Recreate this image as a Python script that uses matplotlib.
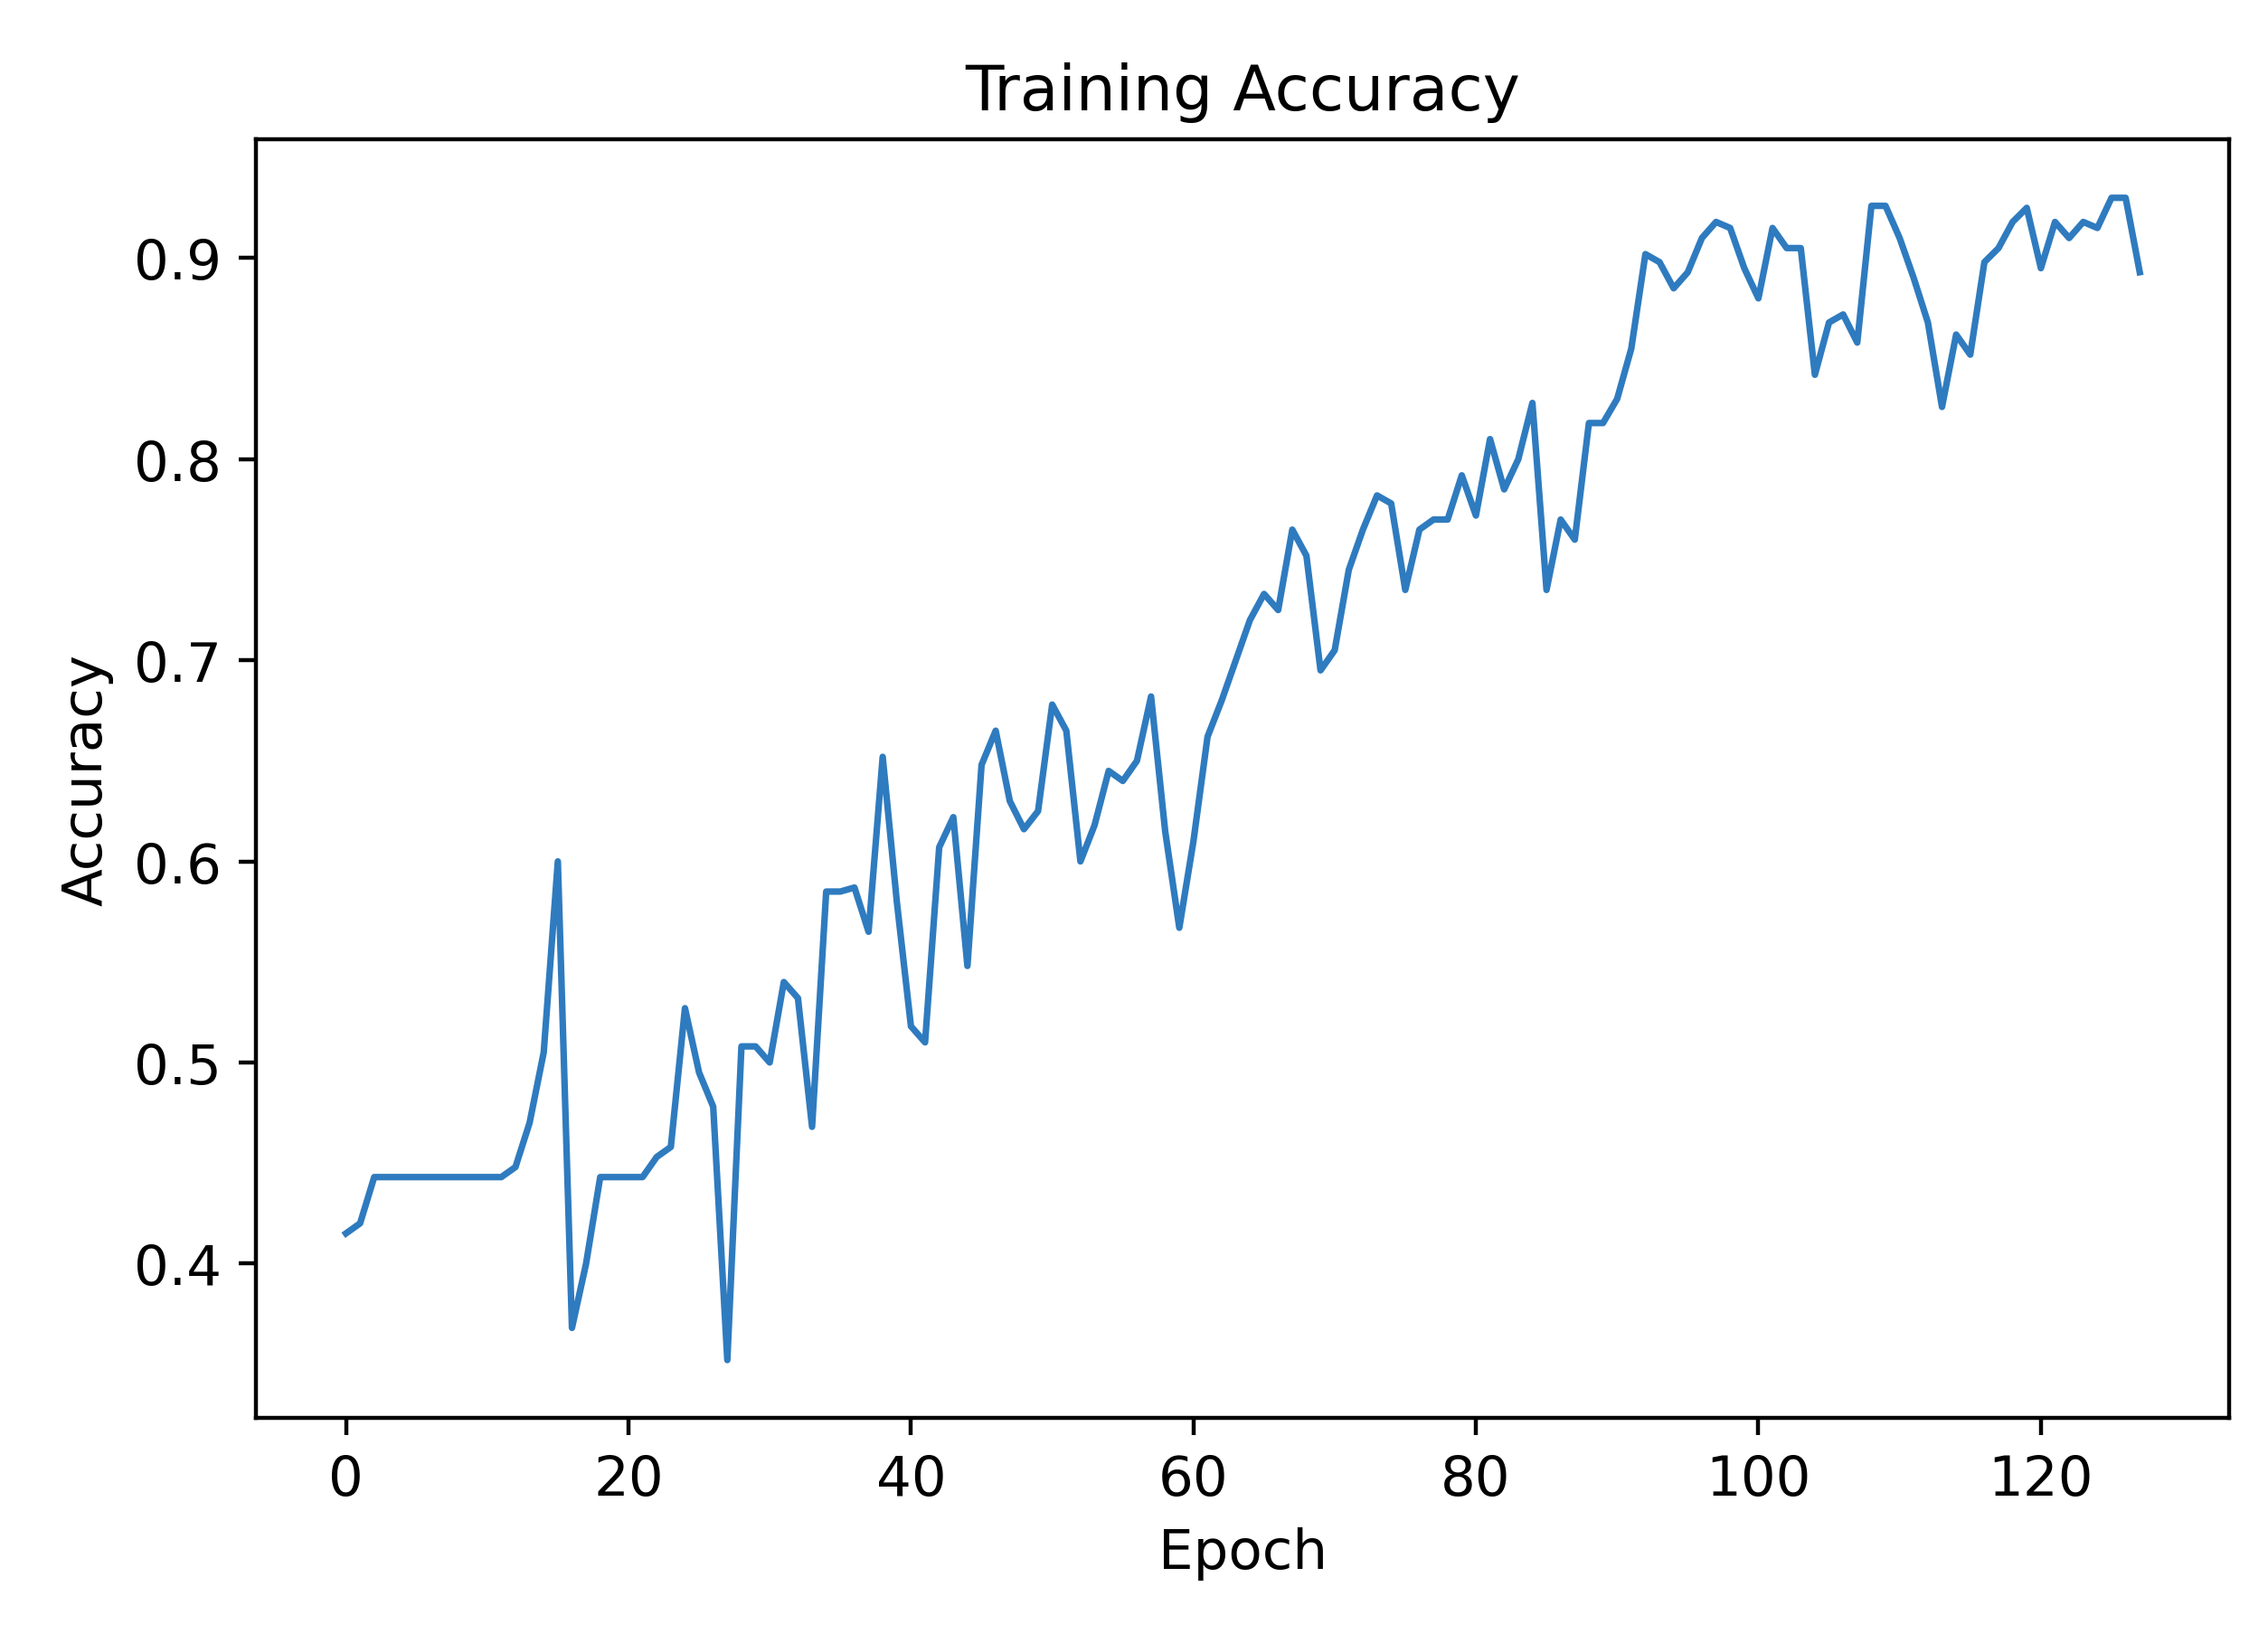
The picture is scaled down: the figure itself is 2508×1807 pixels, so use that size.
import numpy as np
import matplotlib
matplotlib.use('Agg')
import matplotlib.pyplot as plt

# Accuracy per epoch
accuracy = [
    0.415, 0.42, 0.443, 0.443, 0.443, 0.443, 0.443, 0.443, 0.443, 0.443,
    0.443, 0.443, 0.448, 0.47, 0.505, 0.60, 0.368, 0.40, 0.443, 0.443,
    0.443, 0.443, 0.453, 0.458, 0.527, 0.495, 0.478, 0.352, 0.508, 0.508,
    0.50, 0.54, 0.532, 0.468, 0.585, 0.585, 0.587, 0.565, 0.652, 0.58,
    0.518, 0.51, 0.607, 0.622, 0.548, 0.648, 0.665, 0.63, 0.616, 0.625,
    0.678, 0.665, 0.60, 0.618, 0.645, 0.64, 0.65, 0.682, 0.615, 0.567,
    0.61, 0.662, 0.68, 0.70, 0.72, 0.733, 0.725, 0.765, 0.752, 0.695,
    0.705, 0.745, 0.765, 0.782, 0.778, 0.735, 0.765, 0.77, 0.77, 0.792,
    0.772, 0.81, 0.785, 0.80, 0.828, 0.735, 0.77, 0.76, 0.818, 0.818,
    0.83, 0.855, 0.902, 0.898, 0.885, 0.893, 0.91, 0.918, 0.915, 0.895,
    0.88, 0.915, 0.905, 0.905, 0.842, 0.868, 0.872, 0.858, 0.926, 0.926,
    0.91, 0.89, 0.868, 0.826, 0.862, 0.852, 0.898, 0.905, 0.918, 0.925,
    0.895, 0.918, 0.91, 0.918, 0.915, 0.93, 0.93, 0.893,
]
epochs = np.arange(len(accuracy))

fig = plt.figure(figsize=(6.27, 4.52), dpi=400)
ax = fig.add_axes([0.113, 0.132, 0.87, 0.782])
ax.plot(epochs, accuracy, color='#2f7bbf', linewidth=1.3)

ax.set_title('Training Accuracy', fontsize=12.5)
ax.set_xlabel('Epoch', fontsize=11)
ax.set_ylabel('Accuracy', fontsize=11)
ax.set_yticks([0.4, 0.5, 0.6, 0.7, 0.8, 0.9])
ax.tick_params(labelsize=11)

fig.savefig('out.png', dpi=400)
